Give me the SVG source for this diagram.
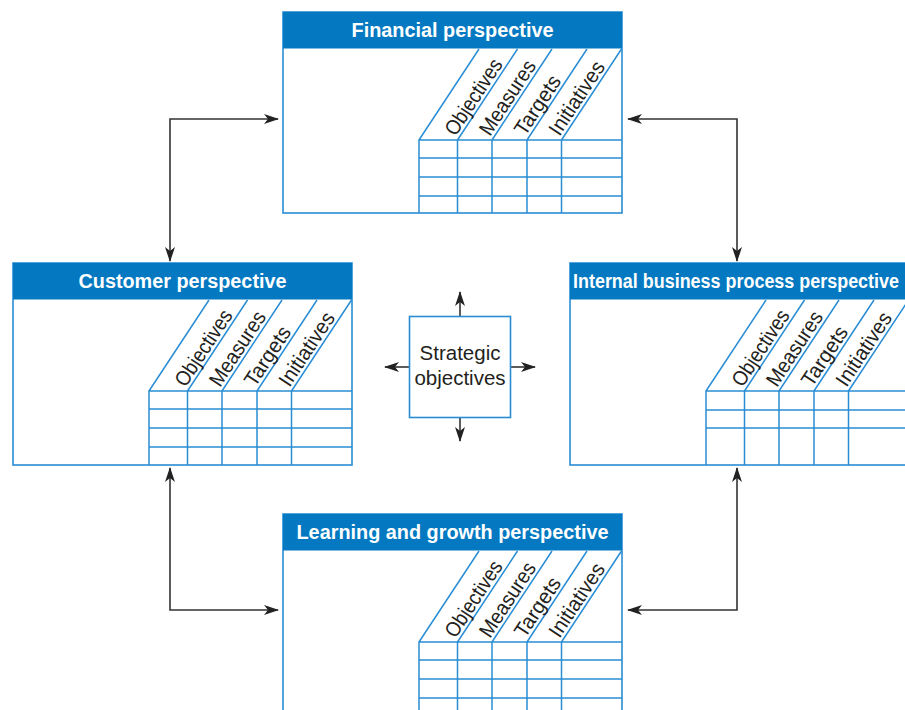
<svg xmlns="http://www.w3.org/2000/svg" width="905" height="710" viewBox="0 0 905 710">
<style>
.frame{fill:#fff;stroke:#2a8dd4;stroke-width:1.6}
.hdr{fill:#0479c1}
.grid{fill:none;stroke:#2a8dd4;stroke-width:1.5}
.title{font-family:"Liberation Sans",Arial,sans-serif;font-weight:bold;font-size:19.5px;fill:#fff;text-anchor:middle}
.lbl{font-family:"Liberation Sans",Arial,sans-serif;font-size:21px;fill:#231f20}
.conn{fill:none;stroke:#333;stroke-width:1.6}
.ctr{font-family:"Liberation Sans",Arial,sans-serif;font-size:20.5px;fill:#231f20;text-anchor:middle}
</style>
<defs>
<marker id="ah" viewBox="0 0 15 10" refX="14" refY="5" markerWidth="15" markerHeight="10" markerUnits="userSpaceOnUse" orient="auto-start-reverse">
<path d="M0,0 L15,5 L0,10 L4,5 Z" fill="#222"/>
</marker>
</defs>

<g id="connectors">
<path class="conn" d="M170,261 L170,119 L278,119" marker-start="url(#ah)" marker-end="url(#ah)"/>
<path class="conn" d="M628,119 L737,119 L737,261" marker-start="url(#ah)" marker-end="url(#ah)"/>
<path class="conn" d="M170,468 L170,610 L278,610" marker-start="url(#ah)" marker-end="url(#ah)"/>
<path class="conn" d="M628,610 L737,610 L737,468" marker-start="url(#ah)" marker-end="url(#ah)"/>
<path class="conn" d="M460,316 L460,292" marker-end="url(#ah)"/>
<path class="conn" d="M460,417 L460,441" marker-end="url(#ah)"/>
<path class="conn" d="M409,367 L385,367" marker-end="url(#ah)"/>
<path class="conn" d="M511,367 L535,367" marker-end="url(#ah)"/>
</g>

<g id="financial" transform="translate(283,12)">
<rect class="frame" x="0" y="0" width="339" height="201"/>
<rect class="hdr" x="0" y="0" width="339" height="36.5"/>
<text class="title" x="169.5" y="25" textLength="202" lengthAdjust="spacingAndGlyphs">Financial perspective</text>
<path class="grid" d="M136,201 V128 H339 M174.5,128 V201 M209,128 V201 M244,128 V201 M278.5,128 V201 M136,146 H339 M136,165 H339 M136,184 H339 M136,128 L196,37 M174.5,128 L234.5,37 M209,128 L269,37 M244,128 L304,37 M278.5,128 L338.5,37"/>
<text class="lbl" transform="translate(172.5,125) rotate(-56.6)" textLength="87" lengthAdjust="spacingAndGlyphs">Objectives</text>
<text class="lbl" transform="translate(207,125) rotate(-56.6)" textLength="85" lengthAdjust="spacingAndGlyphs">Measures</text>
<text class="lbl" transform="translate(242,125) rotate(-56.6)" textLength="67" lengthAdjust="spacingAndGlyphs">Targets</text>
<text class="lbl" transform="translate(276.5,125) rotate(-56.6)" textLength="84" lengthAdjust="spacingAndGlyphs">Initiatives</text>
</g>

<g id="customer" transform="translate(13,263)">
<rect class="frame" x="0" y="0" width="339" height="202"/>
<rect class="hdr" x="0" y="0" width="339" height="36.5"/>
<text class="title" x="169.5" y="25" textLength="208" lengthAdjust="spacingAndGlyphs">Customer perspective</text>
<path class="grid" d="M136,202 V128 H339 M174.5,128 V202 M209,128 V202 M244,128 V202 M278.5,128 V202 M136,146 H339 M136,165 H339 M136,184 H339 M136,128 L196,37 M174.5,128 L234.5,37 M209,128 L269,37 M244,128 L304,37 M278.5,128 L338.5,37"/>
<text class="lbl" transform="translate(172.5,125) rotate(-56.6)" textLength="87" lengthAdjust="spacingAndGlyphs">Objectives</text>
<text class="lbl" transform="translate(207,125) rotate(-56.6)" textLength="85" lengthAdjust="spacingAndGlyphs">Measures</text>
<text class="lbl" transform="translate(242,125) rotate(-56.6)" textLength="67" lengthAdjust="spacingAndGlyphs">Targets</text>
<text class="lbl" transform="translate(276.5,125) rotate(-56.6)" textLength="84" lengthAdjust="spacingAndGlyphs">Initiatives</text>
</g>

<g id="internal" transform="translate(570,263)">
<rect class="frame" x="0" y="0" width="339" height="202"/>
<rect class="hdr" x="0" y="0" width="339" height="36.5"/>
<text class="title" x="166" y="25" textLength="326" lengthAdjust="spacingAndGlyphs">Internal business process perspective</text>
<path class="grid" d="M136,202 V128 H339 M174.5,128 V202 M209,128 V202 M244,128 V202 M278.5,128 V202 M136,147 H339 M136,165 H339 M136,128 L196,37 M174.5,128 L234.5,37 M209,128 L269,37 M244,128 L304,37 M278.5,128 L338.5,37"/>
<text class="lbl" transform="translate(172.5,125) rotate(-56.6)" textLength="87" lengthAdjust="spacingAndGlyphs">Objectives</text>
<text class="lbl" transform="translate(207,125) rotate(-56.6)" textLength="85" lengthAdjust="spacingAndGlyphs">Measures</text>
<text class="lbl" transform="translate(242,125) rotate(-56.6)" textLength="67" lengthAdjust="spacingAndGlyphs">Targets</text>
<text class="lbl" transform="translate(276.5,125) rotate(-56.6)" textLength="84" lengthAdjust="spacingAndGlyphs">Initiatives</text>
</g>

<g id="learning" transform="translate(283,514)">
<rect class="frame" x="0" y="0" width="339" height="201"/>
<rect class="hdr" x="0" y="0" width="339" height="36.5"/>
<text class="title" x="169.5" y="25" textLength="312" lengthAdjust="spacingAndGlyphs">Learning and growth perspective</text>
<path class="grid" d="M136,201 V128 H339 M174.5,128 V201 M209,128 V201 M244,128 V201 M278.5,128 V201 M136,146 H339 M136,165 H339 M136,184 H339 M136,128 L196,37 M174.5,128 L234.5,37 M209,128 L269,37 M244,128 L304,37 M278.5,128 L338.5,37"/>
<text class="lbl" transform="translate(172.5,125) rotate(-56.6)" textLength="87" lengthAdjust="spacingAndGlyphs">Objectives</text>
<text class="lbl" transform="translate(207,125) rotate(-56.6)" textLength="85" lengthAdjust="spacingAndGlyphs">Measures</text>
<text class="lbl" transform="translate(242,125) rotate(-56.6)" textLength="67" lengthAdjust="spacingAndGlyphs">Targets</text>
<text class="lbl" transform="translate(276.5,125) rotate(-56.6)" textLength="84" lengthAdjust="spacingAndGlyphs">Initiatives</text>
</g>

<g id="strategic">
<rect class="frame" x="409.5" y="316.5" width="101" height="101"/>
<text class="ctr" x="460" y="360">Strategic</text>
<text class="ctr" x="460" y="385">objectives</text>
</g>
</svg>
